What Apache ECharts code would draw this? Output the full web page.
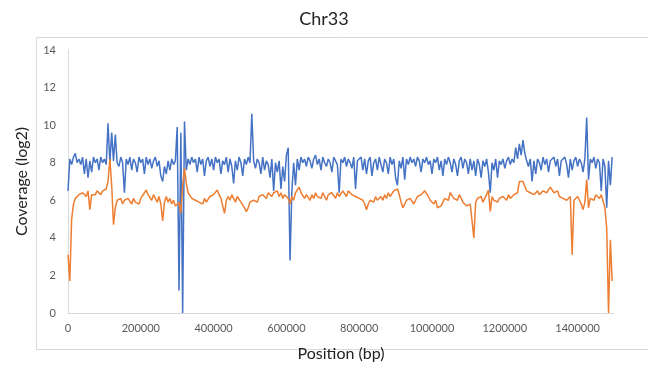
<!DOCTYPE html>
<html>
<head>
<meta charset="utf-8">
<script src="https://cdn.jsdelivr.net/npm/echarts@6/dist/echarts.min.js"></script>
<style>html,body{margin:0;padding:0;background:#fff;}#c{width:648px;height:373px;}</style>
</head>
<body>
<div id="c"></div>
<script>
const binSize = 5000;
const xTicks = [0, 200000, 400000, 600000, 800000, 1000000, 1200000, 1400000];
const yTicks = [0, 2, 4, 6, 8, 10, 12, 14];
const seriesNames = ['Sample A', 'Sample B'];

// Blue series, one value per 5000 bp bin
const blueValues = [
6.5,8.2,7.9,8.3,8.5,8.0,8.2,7.9,8.3,7.4,
8.2,7.2,8.1,7.5,8.3,8.0,8.2,7.6,8.3,8.0,
8.2,7.9,10.1,8.0,9.6,8.1,9.5,8.0,7.8,8.3,
8.0,6.4,8.2,7.9,8.3,7.6,8.2,8.0,7.5,8.3,
8.0,8.2,7.4,8.3,7.9,8.2,7.7,8.1,8.3,7.8,
8.1,7.3,7.0,7.8,7.4,8.1,7.6,8.2,7.9,8.1,
9.9,1.2,9.6,0,10.2,7.6,8.2,7.9,8.3,8.0,
8.2,7.5,8.3,7.9,8.2,7.3,8.1,8.3,7.8,8.2,
7.6,8.3,8.0,8.2,7.4,8.1,7.9,8.3,7.5,8.2,
7.8,6.9,8.1,7.6,8.3,8.0,7.3,8.2,7.9,8.3,
8.0,10.6,8.1,7.7,8.2,8.0,7.4,8.3,7.6,8.1,
7.9,7.2,8.2,6.5,8.0,7.5,8.1,6.6,7.8,7.0,
8.4,8.8,2.8,6.5,8.0,6.8,8.2,7.6,8.3,8.0,
8.2,7.8,8.3,8.1,7.7,8.2,8.4,7.9,8.2,7.6,
8.3,8.0,7.8,8.2,8.0,7.5,8.3,8.1,7.9,6.4,
8.2,8.0,8.3,7.8,8.2,8.0,7.7,8.3,6.6,8.1,
8.0,8.3,7.6,8.2,7.4,8.1,8.3,7.3,8.0,8.2,
7.6,8.3,7.9,7.5,8.2,8.0,7.4,8.3,7.9,8.2,
7.2,6.8,8.1,7.7,8.3,7.1,8.2,7.9,8.3,8.0,
8.2,7.8,8.3,8.1,7.5,8.2,8.0,8.3,7.9,8.1,
7.4,8.2,8.0,8.3,7.6,8.1,7.3,8.2,7.9,8.3,
8.0,7.5,8.2,7.9,7.3,8.1,8.3,7.7,8.2,8.0,
7.4,8.2,7.6,8.1,7.3,8.2,7.9,7.2,8.1,7.8,
8.2,7.5,6.4,8.0,7.6,8.2,7.2,8.1,7.9,8.2,
7.7,8.1,8.3,7.9,8.2,8.0,8.8,8.2,9.0,8.4,
9.2,8.5,8.1,7.8,8.2,7.0,8.1,7.4,8.2,8.0,
7.6,8.3,7.9,8.2,7.5,8.1,8.0,8.3,7.8,8.2,
7.3,8.1,8.0,8.3,7.9,7.2,8.2,7.6,8.1,8.3,
7.8,8.2,8.0,7.5,8.2,10.4,7.1,8.2,8.0,8.3,
7.7,8.2,8.0,6.5,8.2,7.8,5.6,8.1,6.8,8.3
];

// Orange series, one value per 5000 bp bin
const orangeValues = [
3.1,1.7,5.0,5.8,6.1,6.0,6.3,6.2,6.4,6.3,
6.2,6.5,5.5,6.3,6.4,6.3,6.5,6.4,6.3,6.5,
6.4,6.6,7.0,8.2,6.8,4.7,5.6,6.0,5.9,6.1,
5.8,6.0,5.9,6.1,6.0,5.8,6.1,5.9,6.0,5.8,
6.1,6.2,6.4,6.55,6.3,6.2,6.0,6.3,6.1,5.9,
6.2,5.8,4.9,5.9,6.2,5.9,6.1,5.8,6.0,5.7,
5.6,5.9,5.3,6.8,7.7,6.9,6.4,6.3,6.1,6.2,
6.0,6.1,5.9,6.0,5.8,6.1,5.9,6.0,6.2,6.1,
6.3,6.4,6.55,6.3,6.1,6.2,5.3,6.0,6.2,6.0,
6.3,6.1,5.9,6.2,6.1,5.9,5.8,5.6,5.4,5.6,
5.9,5.8,6.0,6.1,5.9,6.2,6.1,6.3,6.2,6.1,
6.4,6.3,6.2,6.4,6.3,6.5,6.2,6.4,6.1,6.3,
6.2,6.1,5.8,6.2,6.0,6.4,6.5,6.7,6.4,6.3,
6.1,6.3,6.2,6.0,6.3,6.1,6.4,6.2,6.3,6.1,
6.4,6.2,6.0,6.3,6.2,6.4,6.3,6.1,6.4,6.2,
6.3,6.5,6.4,6.2,6.5,6.6,6.3,6.4,6.2,6.3,
6.1,6.2,6.0,5.8,5.5,5.8,6.0,6.1,5.9,6.2,
6.0,6.1,6.2,6.0,6.3,6.1,6.4,6.2,6.3,6.5,
6.4,6.6,6.3,5.9,5.6,5.8,6.0,5.9,6.1,6.0,
5.8,6.0,6.2,6.1,6.3,6.2,6.5,6.4,6.2,6.0,
5.9,5.8,6.0,5.6,5.5,5.7,5.9,6.1,6.2,6.0,
6.4,6.3,6.1,6.2,6.0,6.3,6.1,5.9,5.8,5.7,
5.6,5.8,5.7,4.0,5.9,6.1,6.0,6.2,5.9,6.1,
6.3,6.55,5.4,6.2,6.0,6.1,5.9,6.1,6.0,6.2,
6.1,6.0,6.3,6.1,6.2,6.3,6.2,6.4,7.0,7.1,
7.0,6.9,6.5,6.6,6.4,6.5,6.3,6.4,6.5,6.3,
6.4,6.5,6.6,6.4,6.5,6.7,6.6,6.4,6.3,6.5,
6.2,6.3,6.1,6.2,6.0,6.1,6.2,3.1,6.0,6.1,
6.2,6.0,5.8,5.5,5.9,7.1,5.6,6.1,6.2,6.0,
6.3,6.2,6.1,6.3,6.2,5.6,4.5,0,3.9,1.7
];

const toPairs = vals => vals.map((v, i) => [i * binSize, v]);

const chart = echarts.init(document.getElementById('c'), null, {renderer: 'canvas'});
const font = 'Lato, "Open Sans", sans-serif';
chart.setOption({
  animation: false,
  backgroundColor: '#fff',
  title: {
    text: 'Chr33', left: 'center', top: 5,
    textStyle: {fontFamily: font, fontSize: 18, fontWeight: 'normal', color: '#222'}
  },
  graphic: [{
    type: 'rect', left: 34, top: 35, silent: true, z: -1,
    shape: {width: 620, height: 312},
    style: {fill: 'none', stroke: '#d9d9d9', lineWidth: 1}
  }],
  grid: {left: 68, right: 34, top: 50, bottom: 60},
  xAxis: {
    type: 'value', min: 0, max: 1500000, interval: 200000,
    name: 'Position (bp)', nameLocation: 'middle', nameGap: 33,
    nameTextStyle: {fontFamily: font, fontSize: 16, color: '#222'},
    axisLine: {show: true, lineStyle: {color: '#d9d9d9'}},
    axisTick: {show: false},
    splitLine: {show: false},
    axisLabel: {
      color: '#595959', fontFamily: font, fontSize: 11, margin: 10,
      showMaxLabel: false,
      formatter: v => xTicks.indexOf(v) >= 0 ? String(v) : ''
    }
  },
  yAxis: {
    type: 'value', min: 0, max: 14, interval: 2,
    name: 'Coverage (log2)', nameLocation: 'middle', nameGap: 38,
    nameTextStyle: {fontFamily: font, fontSize: 16, color: '#222'},
    axisLine: {show: true, lineStyle: {color: '#d9d9d9'}},
    axisTick: {show: false},
    splitLine: {show: false},
    axisLabel: {
      color: '#595959', fontFamily: font, fontSize: 11, margin: 12,
      formatter: v => yTicks.indexOf(v) >= 0 ? String(v) : ''
    }
  },
  series: [
    {
      name: seriesNames[0], type: 'line', data: toPairs(blueValues),
      showSymbol: false, symbol: 'none',
      lineStyle: {color: '#4472C4', width: 1.5}, itemStyle: {color: '#4472C4'}
    },
    {
      name: seriesNames[1], type: 'line', data: toPairs(orangeValues),
      showSymbol: false, symbol: 'none',
      lineStyle: {color: '#ED7D31', width: 1.5}, itemStyle: {color: '#ED7D31'}
    }
  ]
});
</script>
</body>
</html>
